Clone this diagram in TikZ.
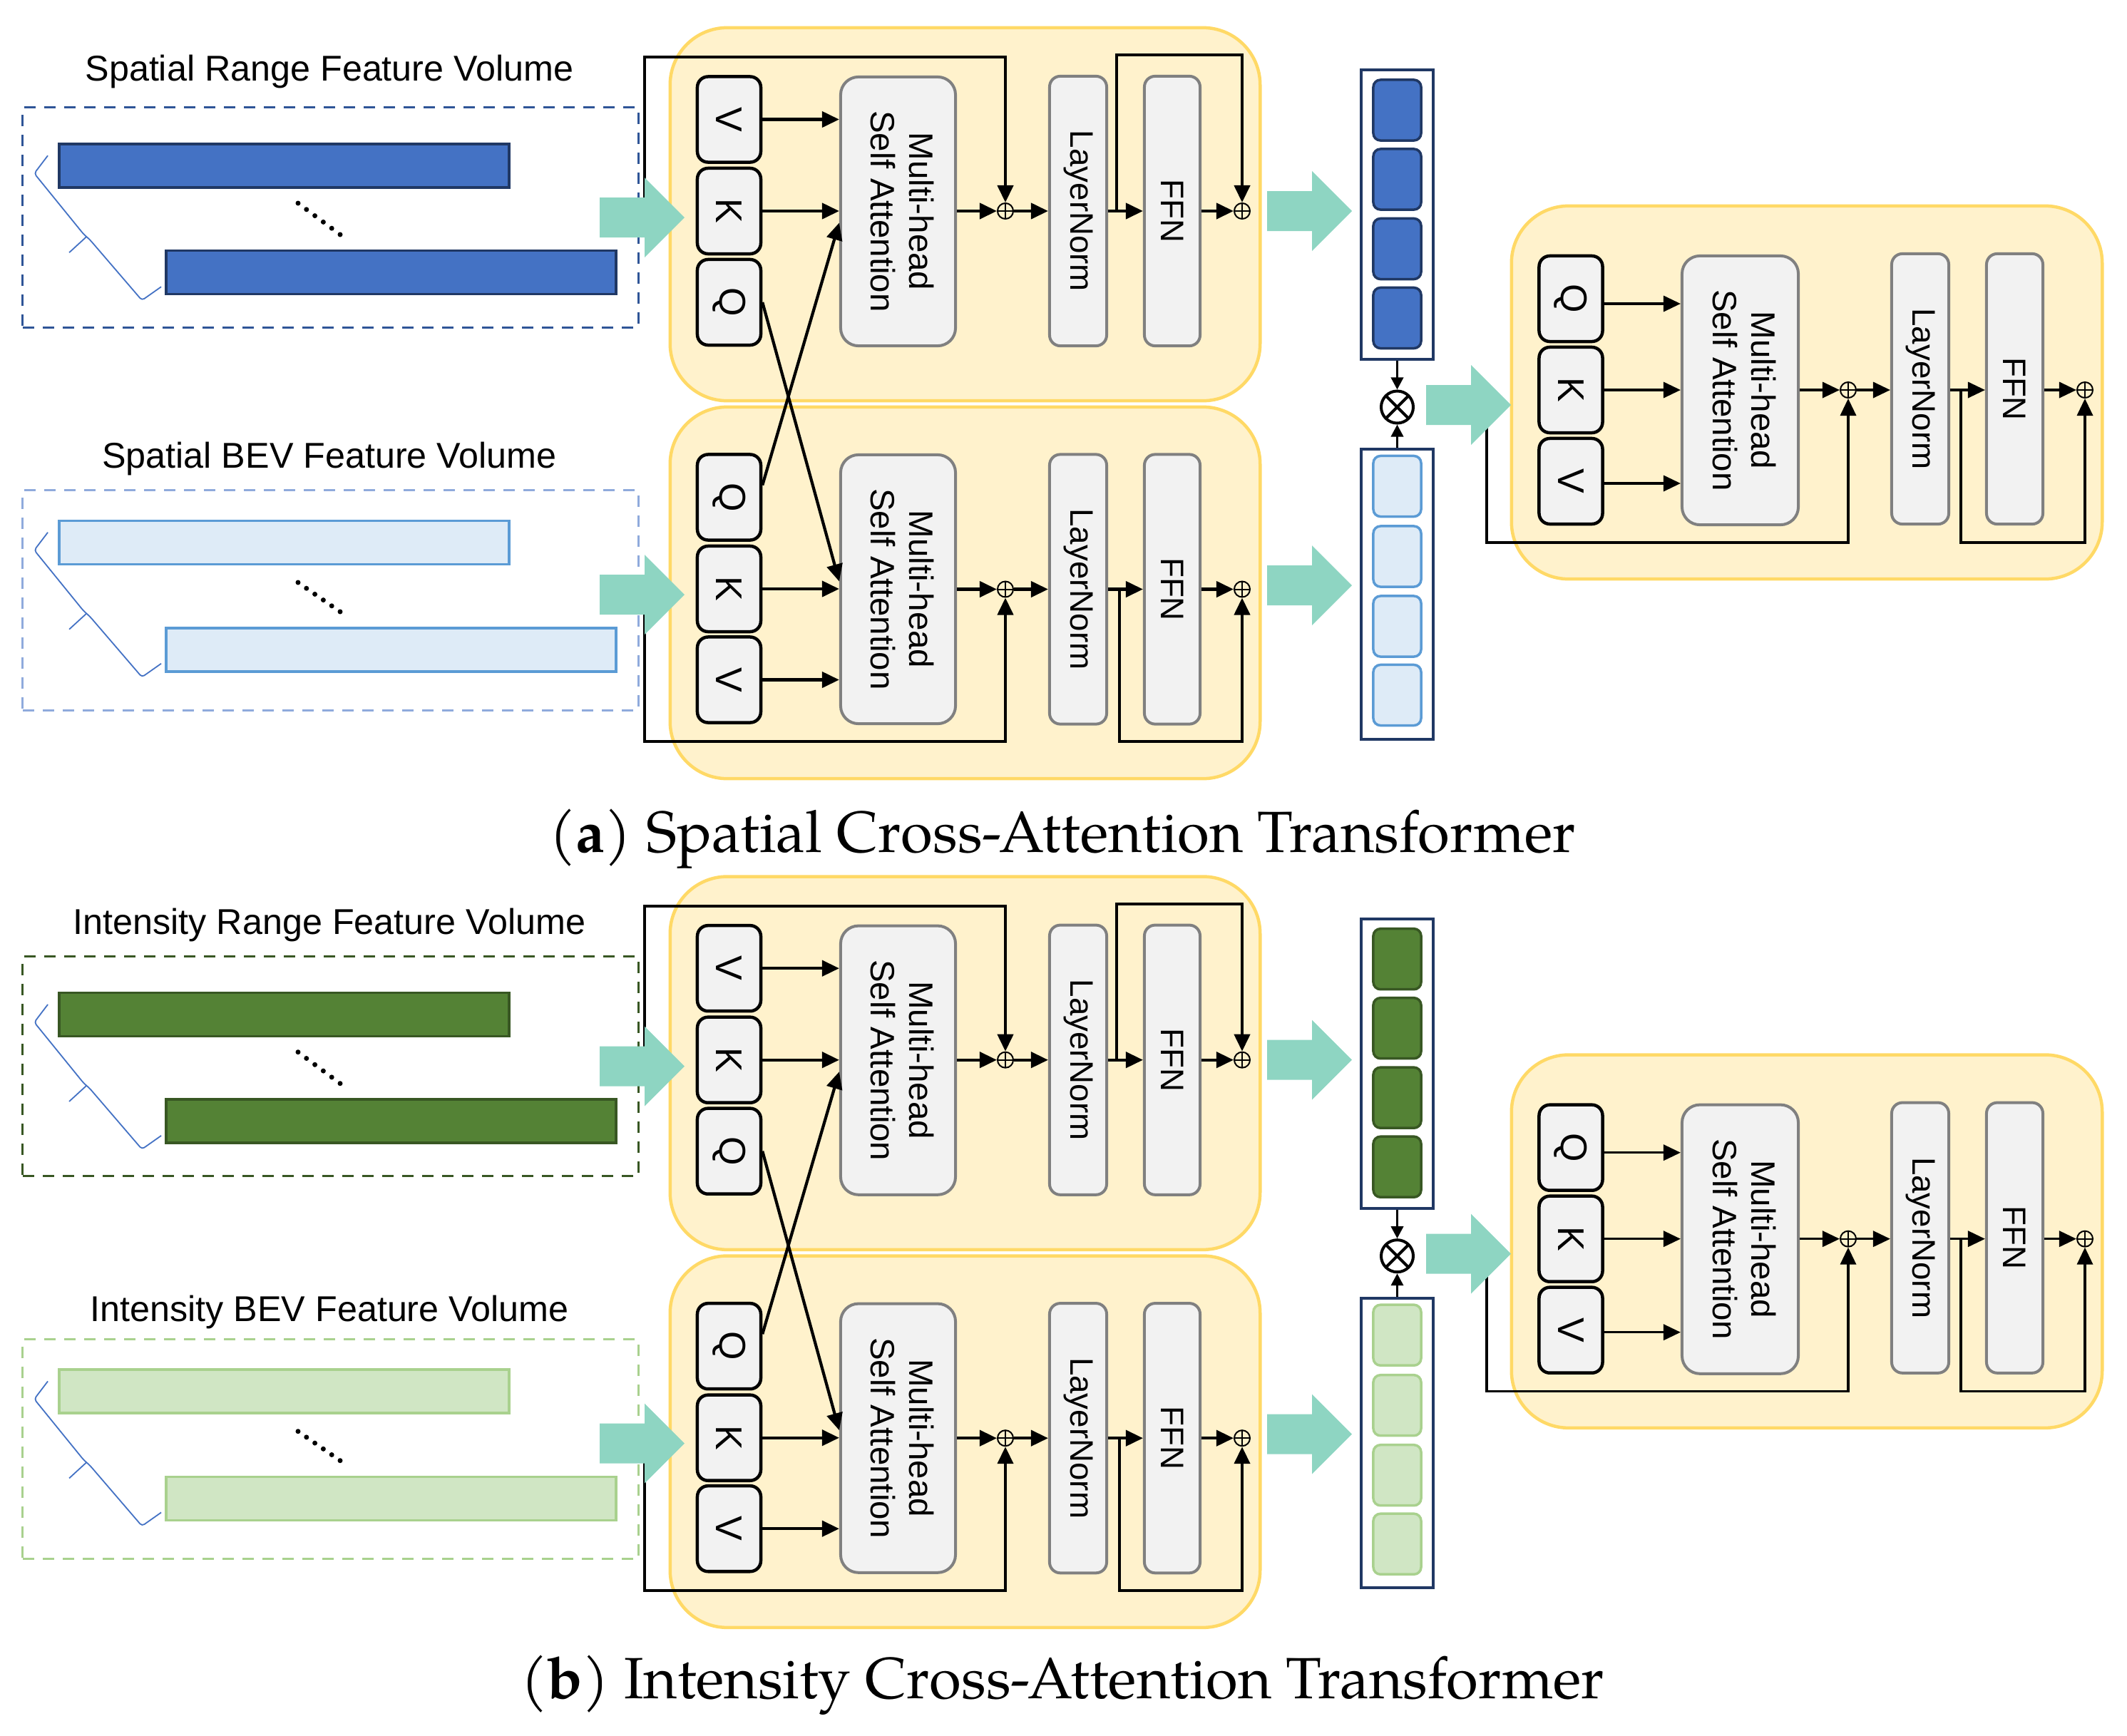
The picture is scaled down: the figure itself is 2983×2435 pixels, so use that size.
\documentclass[tikz,border=0pt]{standalone}
\usepackage{fontspec}
\usepackage{graphicx}
\setmainfont{Liberation Sans}
\newfontfamily\capfont{texgyrepagella}[Extension=.otf,UprightFont=*-regular,BoldFont=*-bold]
\usetikzlibrary{arrows.meta,calc}

\definecolor{arrteal}{RGB}{142,213,194}
\definecolor{yfill}{RGB}{255,242,204}
\definecolor{yline}{RGB}{255,217,102}
\definecolor{boxfill}{RGB}{242,242,242}
\definecolor{grayline}{RGB}{128,128,128}
\definecolor{navy}{RGB}{32,56,100}
\definecolor{bracecol}{RGB}{68,114,196}

\newcommand\ttlfont{\fontsize{14.3}{17}\selectfont}
\newcommand\mhfont{\fontsize{13.5}{15.4}\selectfont}
\newcommand\lnfont{\fontsize{13}{15}\selectfont}
\newcommand\qkvfont{\fontsize{14.8}{17}\selectfont}
\newcommand\mhlabel{\begin{tabular}{@{}c@{}}Multi-head\\Self Attention\end{tabular}}

\newcommand\tealarrow[2]{\fill[arrteal] (#1,#2) ++(0,-28) -- ++(63,0) -- ++(0,-28) -- ++(56,56) -- ++(-56,56) -- ++(0,-28) -- ++(-63,0) -- cycle;}

\newcommand\halfdiag[5]{%
% ---------------- left feature volumes
\node[anchor=base,font=\ttlfont] (#1t1) at (462,#4) {#2};
\node[dbox,draw=rangeline] (#1d1) at (463.5,305) {};
\node[fbar,draw=rangedraw,fill=rangefill] (#1a1) at (398.5,232.5) {};
\node[fbar,draw=rangedraw,fill=rangefill] (#1a2) at (548.5,382) {};
\foreach \k in {0,...,5}{\fill ($(418,285)!\k/5!(477,329)$) circle (0.035cm);}
\draw[brc] (#1a1.north west) ++(-14,18) -- ++(-19,25) -- ++(69,85) -- ++(9,8) -- ++(73,85) -- ++(27,-19);
\draw[brc] (#1a1.north west) ++(40,132) -- ++(-24,22);
\node[anchor=base,font=\ttlfont] (#1t2) at (462,#5) {#3};
\node[dbox,draw=bevline] (#1d2) at (463.5,842) {};
\node[fbar,draw=bevdraw,fill=bevfill] (#1b1) at (398.5,761) {};
\node[fbar,draw=bevdraw,fill=bevfill] (#1b2) at (548.5,911.5) {};
\foreach \k in {0,...,5}{\fill ($(418,817)!\k/5!(477,858)$) circle (0.035cm);}
\draw[brc] (#1b1.north west) ++(-14,18) -- ++(-19,25) -- ++(69,85) -- ++(9,8) -- ++(73,85) -- ++(27,-19);
\draw[brc] (#1b1.north west) ++(40,132) -- ++(-24,22);
% ---------------- yellow containers
\node[ybox,minimum width=8.27cm,minimum height=5.23cm] (#1Y1) at (1353.5,300.5) {};
\node[ybox,minimum width=8.27cm,minimum height=5.21cm] (#1Y2) at (1353.5,831.5) {};
\node[ybox,minimum width=8.28cm,minimum height=5.23cm] (#1Y3) at (2534,550.5) {};
% ---------------- upper block
\node[kbox] (#1TV) at (1022.5,167.5) {\rotatebox{-90}{V}};
\node[kbox] (#1TK) at (1022.5,296) {\rotatebox{-90}{K}};
\node[kbox] (#1TQ) at (1022.5,424) {\rotatebox{-90}{Q}};
\node[gbox,rounded corners=0.25cm,minimum width=1.61cm,minimum height=3.77cm,font=\mhfont] (#1TM) at (1259.5,296.5) {\rotatebox{-90}{\mhlabel}};
\node[gbox,minimum width=0.8cm,minimum height=3.78cm,font=\lnfont] (#1TL) at (1512,296) {\rotatebox{-90}{LayerNorm}};
\node[gbox,minimum width=0.78cm,minimum height=3.78cm,font=\lnfont] (#1TF) at (1644,296) {\rotatebox{-90}{FFN}};
\node[oplus] (#1TP) at (1410,296) {};
\node[oplus] (#1TR) at (1742,296) {};
% ---------------- lower block
\node[kbox] (#1BQ) at (1022.5,697.5) {\rotatebox{-90}{Q}};
\node[kbox] (#1BK) at (1022.5,826) {\rotatebox{-90}{K}};
\node[kbox] (#1BV) at (1022.5,953.5) {\rotatebox{-90}{V}};
\node[gbox,rounded corners=0.25cm,minimum width=1.61cm,minimum height=3.77cm,font=\mhfont] (#1BM) at (1259.5,826.5) {\rotatebox{-90}{\mhlabel}};
\node[gbox,minimum width=0.8cm,minimum height=3.78cm,font=\lnfont] (#1BL) at (1512,826.5) {\rotatebox{-90}{LayerNorm}};
\node[gbox,minimum width=0.78cm,minimum height=3.78cm,font=\lnfont] (#1BF) at (1644,826.5) {\rotatebox{-90}{FFN}};
\node[oplus] (#1BP) at (1410,826.5) {};
\node[oplus] (#1BR) at (1742,826.5) {};
% ---------------- token columns
\node[colbox] (#1C1) at (1959.5,301) {};
\foreach \yy [count=\n] in {154.5,251.5,349,446}{\node[cell,draw=rangedraw,fill=rangefill] (#1c1\n) at (1959.5,\yy) {};}
\node[colbox] (#1C2) at (1959.5,833.5) {};
\foreach \yy [count=\n] in {682,780.5,878.5,975}{\node[cell,draw=bevdraw,fill=bevfill] (#1c2\n) at (1959.5,\yy) {};}
\node[otimes] (#1X) at (1959.5,571) {};
% ---------------- right block
\node[kbox] (#1RQ) at (2203,419) {\rotatebox{-90}{Q}};
\node[kbox] (#1RK) at (2203,547) {\rotatebox{-90}{K}};
\node[kbox] (#1RV) at (2203,675) {\rotatebox{-90}{V}};
\node[gbox,rounded corners=0.25cm,minimum width=1.63cm,minimum height=3.77cm,font=\mhfont] (#1RM) at (2440.5,547.5) {\rotatebox{-90}{\mhlabel}};
\node[gbox,minimum width=0.8cm,minimum height=3.79cm,font=\lnfont] (#1RL) at (2693,545.5) {\rotatebox{-90}{LayerNorm}};
\node[gbox,minimum width=0.79cm,minimum height=3.79cm,font=\lnfont] (#1RF) at (2825.5,545.5) {\rotatebox{-90}{FFN}};
\node[oplus] (#1RP) at (2592,547) {};
\node[oplus] (#1RR) at (2924,547) {};
% ---------------- connectors upper block
\draw[arr] (#1TV.east) -- (#1TV.east -| #1TM.west);
\draw[arr] (#1TK.east) -- (#1TK.east -| #1TM.west);
\draw[arr] (#1TQ.east) -- ($(#1BM.west)+(0,-11)$);
\draw[arr] ($(#1BQ.east)+(0,-17)$) -- ($(#1TM.west)+(0,16)$);
\draw[arr] (#1TM.east |- #1TP.west) -- (#1TP.west);
\draw[arr] (#1TP.east) -- (#1TP.east -| #1TL.west);
\draw[arr] (#1TL.east) -- (#1TF.west);
\draw[arr] (#1TF.east) -- (#1TR.west);
\coordinate (#1S1) at (904,305);
\coordinate (#1S1t) at (904,80);
\draw[arr] (#1S1) -- (#1S1t) -| (#1TP.north);
\coordinate (#1J1) at (1566,296);
\coordinate (#1J1t) at (1566,77);
\draw[arr] (#1J1) -- (#1J1t) -| (#1TR.north);
% ---------------- connectors lower block
\draw[arr] (#1BK.east) -- (#1BK.east -| #1BM.west);
\draw[arr] (#1BV.east) -- (#1BV.east -| #1BM.west);
\draw[arr] (#1BM.east |- #1BP.west) -- (#1BP.west);
\draw[arr] (#1BP.east) -- (#1BP.east -| #1BL.west);
\draw[arr] (#1BL.east) -- (#1BF.west);
\draw[arr] (#1BF.east) -- (#1BR.west);
\coordinate (#1S2) at (904,834);
\coordinate (#1S2b) at (904,1040);
\draw[arr] (#1S2) -- (#1S2b) -| (#1BP.south);
\coordinate (#1J2) at (1570,826.5);
\coordinate (#1J2b) at (1570,1040);
\draw[arr] (#1J2) -- (#1J2b) -| (#1BR.south);
% ---------------- columns to fusion
\draw[arrs] (#1C1.south) -- (#1X.north);
\draw[arrs] (#1C2.north) -- (#1X.south);
% ---------------- connectors right block
\draw[arrt] ($(#1RQ.east)+(0,7)$) -- ($(#1RQ.east -| #1RM.west)+(0,7)$);
\draw[arrt] (#1RK.east) -- (#1RK.east -| #1RM.west);
\draw[arrt] ($(#1RV.east)+(0,3)$) -- ($(#1RV.east -| #1RM.west)+(0,3)$);
\draw[arrt] (#1RM.east |- #1RP.west) -- (#1RP.west);
\draw[arrt] (#1RP.east) -- (#1RP.east -| #1RL.west);
\draw[arrt] (#1RL.east |- #1RR.west) -- (#1RF.west |- #1RR.west);
\draw[arrt] (#1RF.east |- #1RR.west) -- (#1RR.west);
\coordinate (#1S3) at (2085,568);
\coordinate (#1S3b) at (2085,761);
\draw[arrt] (#1S3) -- (#1S3b) -| (#1RP.south);
\coordinate (#1J3) at (2750,547);
\coordinate (#1J3b) at (2750,761);
\draw[arrt] (#1J3) -- (#1J3b) -| (#1RR.south);
% ---------------- wide arrows
\tealarrow{841}{305}
\tealarrow{841}{834}
\tealarrow{1777}{296}
\tealarrow{1777}{821}
\tealarrow{2000}{568}
}

\begin{document}
\begin{tikzpicture}[x=0.01cm,y=-0.01cm,
  conn/.style={line width=0.042cm,draw=black},
  arr/.style={conn,-{Triangle[length=0.24cm,width=0.22cm]}},
  arrt/.style={line width=0.035cm,draw=black,-{Triangle[length=0.24cm,width=0.22cm]}},
  arrs/.style={line width=0.035cm,draw=black,-{Triangle[length=0.17cm,width=0.17cm]}},
  ybox/.style={draw=yline,fill=yfill,line width=0.045cm,rounded corners=0.8cm,inner sep=0},
  kbox/.style={draw=black,fill=boxfill,line width=0.045cm,rounded corners=0.15cm,inner sep=0,minimum width=0.89cm,minimum height=1.2cm,font=\qkvfont},
  gbox/.style={draw=grayline,fill=boxfill,line width=0.04cm,rounded corners=0.15cm,inner sep=0},
  oplus/.style={circle,draw,line width=0.02cm,minimum size=0.22cm,inner sep=0,
    path picture={\draw[line width=0.02cm] (path picture bounding box.north) -- (path picture bounding box.south) (path picture bounding box.west) -- (path picture bounding box.east);}},
  otimes/.style={circle,draw,fill=white,line width=0.04cm,minimum size=0.45cm,inner sep=0,
    path picture={\draw[line width=0.04cm] (path picture bounding box.north west) -- (path picture bounding box.south east) (path picture bounding box.north east) -- (path picture bounding box.south west);}},
  dbox/.style={line width=0.03cm,dash pattern=on 0.16cm off 0.12cm,inner sep=0,minimum width=8.63cm,minimum height=3.08cm},
  fbar/.style={line width=0.035cm,inner sep=0,minimum width=6.31cm,minimum height=0.61cm},
  colbox/.style={draw=navy,fill=white,line width=0.04cm,inner sep=0,minimum width=1.01cm,minimum height=4.06cm},
  cell/.style={rounded corners=0.1cm,line width=0.035cm,inner sep=0,minimum width=0.67cm,minimum height=0.85cm},
  brc/.style={draw=bracecol,line width=0.018cm,rounded corners=0.04cm},
]
\useasboundingbox (0,0) rectangle (2983,2435);

\definecolor{rangeline}{RGB}{47,85,151}
\definecolor{rangefill}{RGB}{68,114,196}
\definecolor{rangedraw}{RGB}{32,56,100}
\definecolor{bevline}{RGB}{143,170,220}
\definecolor{bevfill}{RGB}{222,235,247}
\definecolor{bevdraw}{RGB}{91,155,213}
\halfdiag{a}{Spatial Range Feature Volume}{Spatial BEV Feature Volume}{113}{656}

\node[anchor=base,font=\capfont\fontsize{23.2}{28}\selectfont] (capa) at (1490,1195) {(\textbf{a}) Spatial Cross-Attention Transformer};

\begin{scope}[yshift=-11.9cm]
\definecolor{rangeline}{RGB}{56,87,35}
\definecolor{rangefill}{RGB}{84,130,53}
\definecolor{rangedraw}{RGB}{56,87,35}
\definecolor{bevline}{RGB}{169,209,142}
\definecolor{bevfill}{RGB}{208,230,196}
\definecolor{bevdraw}{RGB}{169,209,142}
\halfdiag{b}{Intensity Range Feature Volume}{Intensity BEV Feature Volume}{120}{663}
\end{scope}

\node[anchor=base,font=\capfont\fontsize{23.2}{28}\selectfont] (capb) at (1490,2382) {(\textbf{b}) Intensity Cross-Attention Transformer};
\end{tikzpicture}
\end{document}
